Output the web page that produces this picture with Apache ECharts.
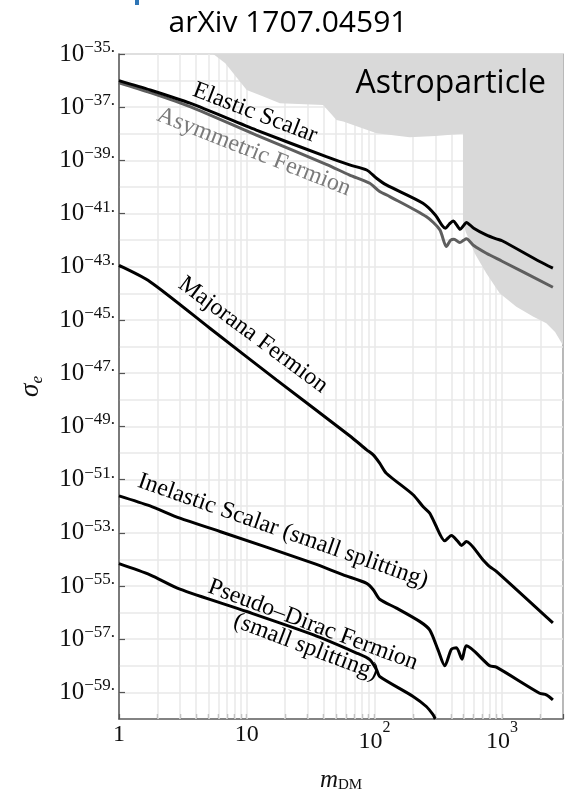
<!DOCTYPE html>
<html><head><meta charset="utf-8">
<script src="https://cdn.jsdelivr.net/npm/echarts@6/dist/echarts.min.js"></script>
<style>html,body{margin:0;padding:0;background:#fff}#c{width:570px;height:791px}</style>
</head><body><div id="c"></div>
<script>
// ---- data: mass m_DM and log10 of sigma_e ----
const massES = [1, 1.75, 3.6, 11.9, 42, 64, 87, 104, 124, 240, 300, 340, 360, 385, 415, 440, 470, 500, 525, 600, 750, 900, 1000, 1970, 2500];
const logES  = [-36.0, -36.35, -36.85, -37.86, -38.86, -39.17, -39.36, -39.67, -39.92, -40.61, -41.05, -41.45, -41.55, -41.40, -41.28, -41.42, -41.59, -41.45, -41.33, -41.55, -41.80, -41.95, -42.02, -42.80, -43.05];

const massAF = [1, 1.75, 3.6, 11.9, 42, 64, 92, 110, 132, 256, 325, 366, 395, 420, 466, 500, 525, 600, 753, 1000, 2500];
const logAF  = [-36.08, -36.45, -36.98, -38.05, -39.15, -39.55, -39.86, -40.17, -40.36, -41.12, -41.6, -42.24, -42.0, -41.96, -42.09, -42.0, -41.95, -42.2, -42.49, -42.79, -43.77];

const massMF = [1, 1.75, 5.15, 17.1, 64, 87, 98, 110, 124, 201, 240, 271, 297, 356, 401, 452, 481, 525, 710, 800, 902, 2500];
const logMF  = [-42.95, -43.56, -45.31, -47.25, -49.35, -49.88, -50.07, -50.38, -50.76, -51.57, -52.01, -52.26, -52.64, -53.3, -53.1, -53.33, -53.48, -53.33, -54.02, -54.27, -54.45, -56.39];

const massIS = [1, 1.75, 3.0, 6.17, 33, 57, 87, 98, 110, 149, 226, 271, 315, 356, 401, 439, 486, 525, 800, 902, 1968, 2221, 2500];
const logIS  = [-51.61, -51.99, -52.45, -52.95, -54.14, -54.58, -54.9, -55.14, -55.5, -55.83, -56.33, -56.65, -57.40, -58.0, -57.38, -57.32, -57.75, -57.25, -58.0, -58.05, -59.03, -59.09, -59.28];

const massPD = [1, 1.75, 3.0, 10, 33, 72.5, 92, 104, 110, 201, 255, 288, 300];
const logPD  = [-54.16, -54.58, -55.12, -55.96, -56.83, -57.52, -57.77, -58.15, -58.40, -59.15, -59.53, -59.84, -60.0];

const massAstro = [5.47, 6.8, 10, 13.5, 18.2, 39.7, 50.5, 57, 104, 189, 300, 494, 494, 520, 560, 610, 753, 958, 1294, 1746, 2221, 2600, 3000];
const logAstro  = [-35, -35.35, -36.35, -36.6, -36.85, -36.92, -37.48, -37.54, -37.98, -38.13, -38.08, -38.0, -41.3, -41.7, -42.05, -42.49, -43.24, -43.99, -44.50, -44.87, -45.12, -45.45, -45.95];

// ---- axes ----
const xMin = 1, xMax = 3000;
const yMinExp = -60, yMaxExp = -35;
const xTickValues = [1,2,3,4,5,6,7,8,9,10,20,30,40,50,60,70,80,90,100,200,300,400,500,600,700,800,900,1000,2000,3000];
const xLabelValues = [1, 10, 100, 1000];
const yLabelExps = [-59,-57,-55,-53,-51,-49,-47,-45,-43,-41,-39,-37,-35];

const P = e => Math.pow(10, e);
const pts = (m, e) => m.map((v, i) => [v, P(e[i])]);

const serif = 'Liberation Serif';
const chart = echarts.init(document.getElementById('c'), null, {renderer: 'canvas'});

const gridColor = '#e8e8e8';
const vGrid = xTickValues.filter(v => v > xMin && v < xMax).map(v => ({xAxis: v}));

function curve(name, m, e, color, z) {
  return {
    name, type: 'line', data: pts(m, e), showSymbol: false, smooth: 0.25,
    xAxisIndex: 0, yAxisIndex: 0,
    lineStyle: {color, width: 3}, z, animation: false, silent: true
  };
}

const labelRich = {
  b: {fontFamily: serif, fontSize: 25, lineHeight: 30, color: '#111'},
  s: {fontFamily: serif, fontSize: 17, lineHeight: 16, verticalAlign: 'top', color: '#111'},
  x: {fontFamily: serif, fontSize: 24, lineHeight: 30, color: '#111'},
  c: {fontFamily: serif, fontSize: 24, lineHeight: 44, color: '#111'},
  t: {fontFamily: serif, fontSize: 16, lineHeight: 30, verticalAlign: 'top', color: '#111'}
};

const option = {
  animation: false,
  backgroundColor: '#fff',
  grid: {left: 119, top: 54, right: 7, bottom: 72, show: true, borderColor: '#8a8a8a', borderWidth: 1.2,
         containLabel: false, outerBoundsMode: 'none'},
  xAxis: [{
    type: 'log', logBase: 10, min: xMin, max: xMax, position: 'bottom',
    name: '{m|m}{d|DM}', nameLocation: 'middle', nameGap: 48,
    nameTextStyle: {rich: {
      m: {fontFamily: serif, fontStyle: 'italic', fontSize: 25, lineHeight: 26, color: '#111'},
      d: {fontFamily: serif, fontSize: 15, lineHeight: 16, verticalAlign: 'bottom', color: '#111'}
    }},
    axisLine: {show: true, lineStyle: {color: '#666', width: 1.5}},
    axisTick: {show: false},
    axisLabel: {customValues: xLabelValues, margin: 1, rich: labelRich,
      formatter: v => {
        const e = Math.round(Math.log10(v));
        if (e === 0) return '{x|1}';
        if (e === 1) return '{x|10}';
        return '{c|10}{t|' + e + '}';
      }},
    splitLine: {show: false}
  }, {
    // tick marks aligned with the log axis (positions in decades)
    type: 'value', min: Math.log10(xMin), max: Math.log10(xMax), position: 'bottom',
    axisLine: {show: false}, axisLabel: {show: false}, splitLine: {show: false},
    axisTick: {show: true, inside: true, length: 5, customValues: xTickValues.map(v => Math.log10(v)),
               lineStyle: {color: '#555', width: 1.2}}
  }],
  yAxis: [{
    type: 'log', logBase: 10, min: P(yMinExp), max: P(yMaxExp), position: 'left',
    name: '{i|σ}{e|e}', nameLocation: 'middle', nameGap: 73, nameRotate: 90,
    nameTextStyle: {rich: {
      i: {fontFamily: serif, fontStyle: 'italic', fontSize: 27, lineHeight: 30, color: '#111'},
      e: {fontFamily: serif, fontStyle: 'italic', fontSize: 17, lineHeight: 18, verticalAlign: 'bottom', color: '#111'}
    }},
    axisLine: {show: true, lineStyle: {color: '#666', width: 1.5}},
    axisTick: {show: false}, axisLabel: {show: false}, splitLine: {show: false}
  }, {
    // decade grid + labels (exponent scale, aligned with the log axis)
    type: 'value', min: yMinExp, max: yMaxExp, interval: 1, position: 'left',
    axisLine: {show: false}, axisTick: {show: false},
    splitLine: {show: true, lineStyle: {color: gridColor, width: 1.5}},
    axisLabel: {margin: 4, rich: labelRich,
      formatter: v => (yLabelExps.indexOf(v) >= 0 ? '{b|10}{s|−' + (-v) + '.}' : '')}
  }, {
    type: 'value', min: yMinExp, max: yMaxExp, position: 'left',
    axisLine: {show: false}, axisLabel: {show: false}, splitLine: {show: false},
    axisTick: {show: true, inside: true, length: 6, customValues: yLabelExps, lineStyle: {color: '#555', width: 1.2}}
  }],
  series: [
    {
      type: 'line', name: 'grid', data: [], z: 1, silent: true, xAxisIndex: 0, yAxisIndex: 0,
      markLine: {
        silent: true, symbol: 'none', animation: false, z: 1,
        label: {show: false},
        lineStyle: {color: gridColor, width: 1.5, type: 'solid'},
        data: vGrid
      }
    },
    {
      type: 'custom', name: 'Astroparticle', z: 2, silent: true, xAxisIndex: 0, yAxisIndex: 0,
      data: [[massAstro[0], P(logAstro[0])]],
      renderItem: (params, api) => {
        const points = massAstro.map((m, i) => api.coord([m, P(logAstro[i])]));
        points.push(api.coord([xMax, P(yMaxExp)]));
        return {type: 'polygon', shape: {points}, style: {fill: '#d9d9d9'}};
      }
    },
    curve('Asymmetric Fermion', massAF, logAF, '#5e5e5e', 3),
    curve('Elastic Scalar', massES, logES, '#000', 4),
    curve('Majorana Fermion', massMF, logMF, '#000', 4),
    curve('Inelastic Scalar (small splitting)', massIS, logIS, '#000', 4),
    curve('Pseudo-Dirac Fermion (small splitting)', massPD, logPD, '#000', 4)
  ],
  graphic: [
    {type: 'rect', left: 135, top: 0, shape: {width: 4, height: 5}, style: {fill: '#2e75b6'}},
    {type: 'text', x: 288, y: 23, style: {text: 'arXiv 1707.04591', font: '30px "Open Sans"', fill: '#000', align: 'center', verticalAlign: 'middle'}},
    {type: 'text', x: 546, y: 84, z: 10, style: {text: 'Astroparticle', font: '32px "Open Sans"', fill: '#000', align: 'right', verticalAlign: 'middle'}},
    {type: 'text', x: 255, y: 113, rotation: -21 * Math.PI / 180, z: 10, style: {text: 'Elastic Scalar', font: '24px "Liberation Serif"', fill: '#000', align: 'center', verticalAlign: 'middle'}},
    {type: 'text', x: 254, y: 152, rotation: -21.5 * Math.PI / 180, z: 10, style: {text: 'Asymmetric Fermion', font: '24px "Liberation Serif"', fill: '#7a7a7a', align: 'center', verticalAlign: 'middle'}},
    {type: 'text', x: 253, y: 335, rotation: -36.5 * Math.PI / 180, z: 10, style: {text: 'Majorana Fermion', font: '24px "Liberation Serif"', fill: '#000', align: 'center', verticalAlign: 'middle'}},
    {type: 'text', x: 283, y: 531, rotation: -19.3 * Math.PI / 180, z: 10, style: {text: 'Inelastic Scalar (small splitting)', font: '24px "Liberation Serif"', fill: '#000', align: 'center', verticalAlign: 'middle'}},
    {type: 'text', x: 313, y: 625, rotation: -20.5 * Math.PI / 180, z: 10, style: {text: 'Pseudo–Dirac Fermion', font: '24px "Liberation Serif"', fill: '#000', align: 'center', verticalAlign: 'middle'}},
    {type: 'text', x: 306, y: 647, rotation: -20.7 * Math.PI / 180, z: 10, style: {text: '(small splitting)', font: '24px "Liberation Serif"', fill: '#000', align: 'center', verticalAlign: 'middle'}}
  ]
};
chart.setOption(option);
</script>
</body></html>
